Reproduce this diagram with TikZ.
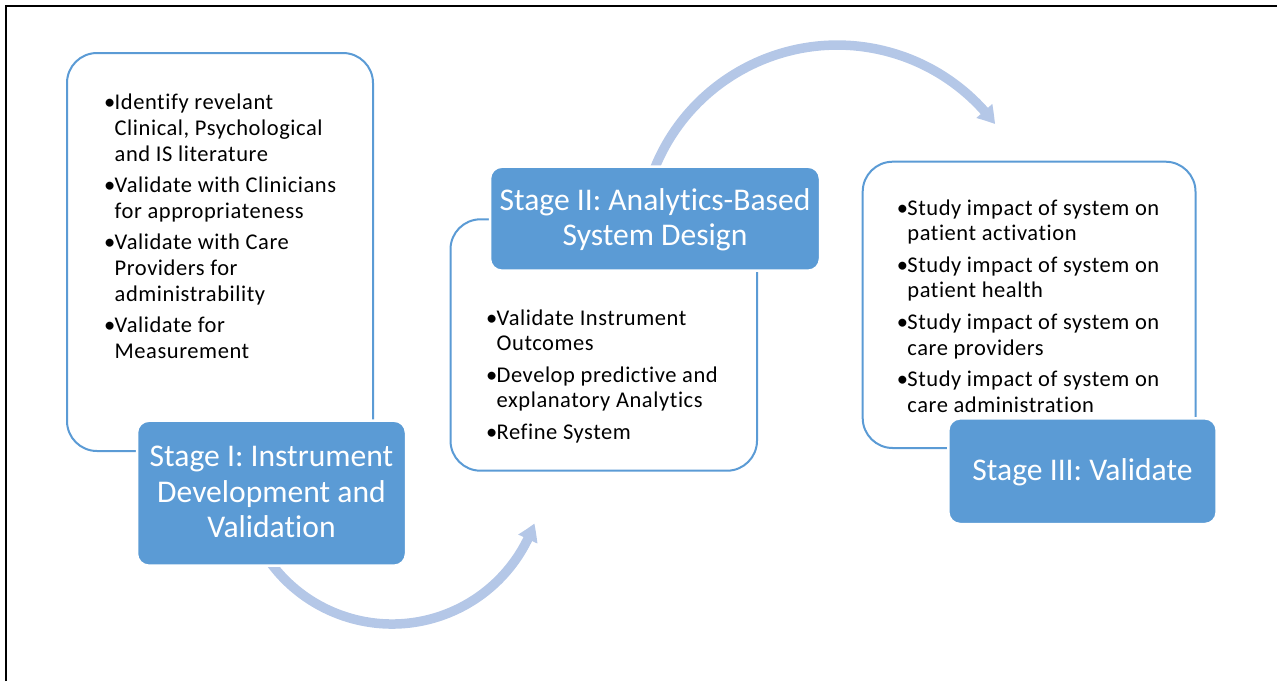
\documentclass[tikz,border=0pt]{standalone}
\usepackage{fontspec}
\setmainfont{Carlito}[Ligatures=NoCommon]
\newfontfamily\listfont{Carlito}[Ligatures=NoCommon, LetterSpace=2.5]
\usetikzlibrary{arrows.meta,bending}

\definecolor{boxblue}{HTML}{5B9BD5}
\definecolor{flowblue}{HTML}{B4C7E7}

% bullet list helpers
\newcommand\bul{\makebox[10.5pt][l]{•}}
\newcommand\ind{\hspace*{10.5pt}}
\newcommand\itemgap{\\[5.5pt]}

\tikzset{
  textbox/.style={draw=boxblue, line width=2pt, fill=white, rounded corners=30pt,
                  inner sep=0pt, outer sep=0pt},
  stagebox/.style={draw=white, line width=2.5pt, fill=boxblue, rounded corners=12pt,
                   inner sep=0pt, outer sep=0pt},
  listtext/.style={anchor=base west, inner sep=0pt, text=black,
                   font=\listfont\fontsize{22.5}{25.8}\selectfont},
  titletext/.style={anchor=base, inner sep=0pt, text=white,
                    font=\fontsize{31.6}{35.3}\selectfont},
  flow/.style={draw=flowblue, line width=9.5pt,
               -{Triangle[width=20pt,length=17pt,bend]}},
}

\begin{document}
\begin{tikzpicture}[x=1pt, y=-1pt]
  \useasboundingbox (0,0) rectangle (1277,681);

  % outer frame (top and left edges)
  \coordinate (fbl) at (5.7,681);
  \coordinate (ftl) at (5.7,5.7);
  \coordinate (ftr) at (1277,5.7);
  \draw[line width=2pt] (fbl) -- (ftl) -- (ftr);

  % curved flow arrows, drawn first so the stage boxes cover their tails
  \coordinate (c1) at (392,473);
  \coordinate (c2) at (837.3,242.1);
  \draw[flow] ([shift={(155:151)}]c1) arc[start angle=155, end angle=19.5, radius=151];
  \draw[flow] ([shift={(198:197)}]c2) arc[start angle=198, end angle=323.2, radius=197];

  % bullet text boxes
  \node[textbox, minimum width=306pt, minimum height=398pt] (t1) at (220,252) {};
  \node[textbox, minimum width=306.5pt, minimum height=251.4pt] (t2) at (603.75,345) {};
  \node[textbox, minimum width=332.8pt, minimum height=286.3pt] (t3) at (1029.1,304.85) {};

  % stage title boxes
  \node[stagebox, minimum width=269pt, minimum height=145pt] (b1) at (271.5,493.2) {};
  \node[stagebox, minimum width=330pt, minimum height=104pt] (b2) at (655,218.7) {};
  \node[stagebox, minimum width=268.4pt, minimum height=105.7pt] (b3) at (1082.5,471.2) {};

  % stage titles
  \node[titletext] (h1) at (271.5,466.7)
    {\parbox[t]{320pt}{\centering Stage I: Instrument\\Development and\\Validation}};
  \node[titletext] (h2) at (655,210)
    {\parbox[t]{340pt}{\centering Stage II: Analytics-Based\\System Design}};
  \node[titletext] (h3) at (1082.5,480)
    {\parbox[t]{320pt}{\centering Stage III: Validate}};

  % bullet lists
  \node[listtext] (l1) at (104,109.5) {\parbox[t]{300pt}{\raggedright
    \bul Identify revelant\\
    \ind Clinical, Psychological\\
    \ind and IS literature\itemgap
    \bul Validate with Clinicians\\
    \ind for appropriateness\itemgap
    \bul Validate with Care\\
    \ind Providers for\\
    \ind administrability\itemgap
    \bul Validate for\\
    \ind Measurement}};

  \node[listtext] (l2) at (486,325) {\parbox[t]{300pt}{\raggedright
    \bul Validate Instrument\\
    \ind Outcomes\itemgap
    \bul Develop predictive and\\
    \ind explanatory Analytics\itemgap
    \bul Refine System}};

  \node[listtext] (l3) at (896.7,215) {\parbox[t]{300pt}{\raggedright
    \bul Study impact of system on\\
    \ind patient activation\itemgap
    \bul Study impact of system on\\
    \ind patient health\itemgap
    \bul Study impact of system on\\
    \ind care providers\itemgap
    \bul Study impact of system on\\
    \ind care administration}};
\end{tikzpicture}
\end{document}
